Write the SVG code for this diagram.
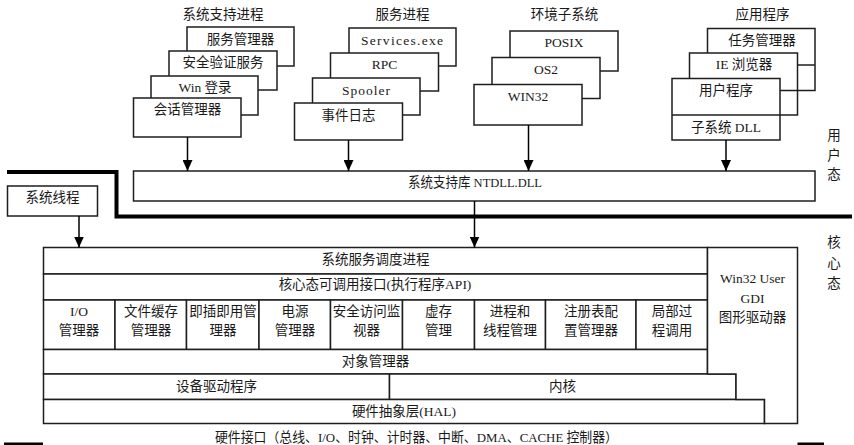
<svg xmlns="http://www.w3.org/2000/svg" width="854" height="445" viewBox="0 0 854 445">
<defs>
<style>
.b{fill:#fff;stroke:#1e1e1e;stroke-width:1.5}
.l{fill:none;stroke:#1e1e1e;stroke-width:1.5}
.c{fill:none;stroke:#000;stroke-width:1.5}
.thick{fill:none;stroke:#000;stroke-width:4}
text{font-family:"Liberation Serif","Noto Sans CJK SC",serif;font-size:13.5px;fill:#1a1a1a;text-anchor:middle}
</style>
<marker id="arr" markerWidth="11" markerHeight="10" refX="11" refY="5" orient="auto" markerUnits="userSpaceOnUse">
<path d="M0,0 L11,5 L0,10 z" fill="#000"/>
</marker>
</defs>
<rect width="854" height="445" fill="#fff"/>

<g id="sys-support-processes">
<text x="223" y="19">系统支持进程</text>
<rect class="b" x="187" y="27" width="107" height="39"/>
<text x="240.5" y="43.5">服务管理器</text>
<rect class="b" x="169" y="51" width="108" height="39"/>
<text x="223" y="67">安全验证服务</text>
<rect class="b" x="151" y="76" width="107" height="39"/>
<text x="205" y="92">Win 登录</text>
<rect class="b" x="133.5" y="98" width="107.5" height="39"/>
<text x="187.5" y="113.5">会话管理器</text>
</g>

<g id="service-processes">
<text x="402.5" y="19">服务进程</text>
<rect class="b" x="349" y="28" width="107" height="38"/>
<text x="402" y="44.5" textLength="82" lengthAdjust="spacing">Services.exe</text>
<rect class="b" x="330.5" y="53" width="108" height="38"/>
<text x="384.5" y="68.5">RPC</text>
<rect class="b" x="312.5" y="78" width="107.5" height="37"/>
<text x="366" y="94.5" textLength="48" lengthAdjust="spacing">Spooler</text>
<rect class="b" x="294.5" y="103" width="108" height="37"/>
<text x="348.5" y="119.5">事件日志</text>
</g>

<g id="env-subsystems">
<text x="564.5" y="19">环境子系统</text>
<rect class="b" x="510" y="31" width="108" height="40"/>
<text x="564" y="47">POSIX</text>
<rect class="b" x="492" y="57.5" width="108" height="41"/>
<text x="546" y="74">OS2</text>
<rect class="b" x="474" y="84.5" width="108" height="40.5"/>
<text x="528" y="101">WIN32</text>
</g>

<g id="applications">
<text x="762.5" y="19">应用程序</text>
<rect class="b" x="707.5" y="28.5" width="107.5" height="62"/>
<line class="l" x1="707.5" y1="65" x2="815" y2="65"/>
<text x="762" y="44.5">任务管理器</text>
<rect class="b" x="689.5" y="53" width="108" height="62"/>
<line class="l" x1="689.5" y1="90.5" x2="797.5" y2="90.5"/>
<text x="744" y="68.5">IE 浏览器</text>
<rect class="b" x="672" y="78.5" width="108" height="61.5"/>
<line class="l" x1="672" y1="115" x2="780" y2="115"/>
<text x="726" y="94.5">用户程序</text>
<text x="726" y="132">子系统 DLL</text>
</g>

<g id="ntdll">
<rect class="b" x="133.5" y="171" width="681.5" height="30"/>
<text x="475" y="186.5" textLength="134" lengthAdjust="spacingAndGlyphs">系统支持库 NTDLL.DLL</text>
</g>

<g id="system-threads">
<rect class="b" x="7.5" y="186" width="90" height="30"/>
<text x="52.5" y="202">系统线程</text>
</g>

<g id="user-mode-label">
<text x="834" y="140">用</text>
<text x="834" y="160">户</text>
<text x="834" y="178.5">态</text>
</g>

<g id="kernel-mode-label">
<text x="834" y="247">核</text>
<text x="834" y="268">心</text>
<text x="834" y="288">态</text>
</g>

<g id="mode-boundary">
<polyline class="thick" points="7,172 116.5,172 116.5,216.5 852,216.5"/>
<rect x="4" y="442.5" width="39" height="5" fill="#000"/>
<rect x="797.5" y="442.5" width="26.5" height="5" fill="#000"/>
</g>

<g id="kernel">
<g id="dispatcher">
<rect class="b" x="43.5" y="247.5" width="664" height="26.5"/>
<text x="375.5" y="263.5">系统服务调度进程</text>
</g>
<g id="executive-api">
<rect class="b" x="43.5" y="274" width="664" height="26"/>
<text x="375" y="288.5">核心态可调用接口(执行程序API)</text>
</g>
<g id="io-manager">
<rect class="b" x="43.5" y="300" width="71.5" height="49.5"/>
<text x="79" y="315.5">I/O</text><text x="79" y="335">管理器</text>
</g>
<g id="cache-manager">
<rect class="b" x="115" y="300" width="71.5" height="49.5"/>
<text x="151" y="315.5">文件缓存</text><text x="151" y="335">管理器</text>
</g>
<g id="pnp-manager">
<rect class="b" x="186.5" y="300" width="72.5" height="49.5"/>
<text x="223" y="315.5">即插即用管</text><text x="223" y="335">理器</text>
</g>
<g id="power-manager">
<rect class="b" x="259" y="300" width="71.5" height="49.5"/>
<text x="295" y="315.5">电源</text><text x="295" y="335">管理器</text>
</g>
<g id="security-monitor">
<rect class="b" x="330.5" y="300" width="72" height="49.5"/>
<text x="366.5" y="315.5">安全访问监</text><text x="366.5" y="335">视器</text>
</g>
<g id="vm-manager">
<rect class="b" x="402.5" y="300" width="72" height="49.5"/>
<text x="438.5" y="315.5">虚存</text><text x="438.5" y="335">管理</text>
</g>
<g id="process-thread-manager">
<rect class="b" x="474.5" y="300" width="71" height="49.5"/>
<text x="510" y="315.5">进程和</text><text x="510" y="335">线程管理</text>
</g>
<g id="registry-manager">
<rect class="b" x="545.5" y="300" width="90.5" height="49.5"/>
<text x="591" y="315.5">注册表配</text><text x="591" y="335">置管理器</text>
</g>
<g id="lpc">
<rect class="b" x="636" y="300" width="71.5" height="49.5"/>
<text x="672" y="315.5">局部过</text><text x="672" y="335">程调用</text>
</g>
<g id="object-manager">
<rect class="b" x="43.5" y="349.5" width="664" height="24.5"/>
<text x="375.5" y="366">对象管理器</text>
</g>
<g id="device-drivers">
<rect class="b" x="43.5" y="374" width="346" height="25.5"/>
<text x="216.5" y="390.5">设备驱动程序</text>
</g>
<g id="kernel-core">
<rect class="b" x="389.5" y="374" width="346.5" height="25.5"/>
<text x="562.5" y="390.5">内核</text>
</g>
<g id="hal">
<rect class="b" x="43.5" y="399.5" width="721" height="24"/>
<text x="404" y="415.5">硬件抽象层(HAL)</text>
</g>
<g id="win32-gdi">
<polygon class="b" points="707.5,247.5 797.5,247.5 797.5,423.5 764.5,423.5 764.5,399.5 736,399.5 736,374 707.5,374"/>
<text x="752.5" y="282.5">Win32 User</text>
<text x="752.5" y="302.5">GDI</text>
<text x="752.5" y="321.5">图形驱动器</text>
</g>
</g>

<g id="hardware-interface">
<text x="416.5" y="441.5" textLength="403" lengthAdjust="spacingAndGlyphs">硬件接口（总线、I/O、时钟、计时器、中断、DMA、CACHE 控制器）</text>
</g>

<g id="connectors">
<line class="c" x1="187.5" y1="137" x2="187.5" y2="171" marker-end="url(#arr)"/>
<line class="c" x1="348.5" y1="140" x2="348.5" y2="171" marker-end="url(#arr)"/>
<line class="c" x1="528.5" y1="125" x2="528.5" y2="171" marker-end="url(#arr)"/>
<line class="c" x1="726" y1="140" x2="726" y2="171" marker-end="url(#arr)"/>
<line class="c" x1="474.5" y1="201" x2="474.5" y2="247.5" marker-end="url(#arr)"/>
<line class="c" x1="79" y1="216" x2="79" y2="247.5" marker-end="url(#arr)"/>
</g>
</svg>
